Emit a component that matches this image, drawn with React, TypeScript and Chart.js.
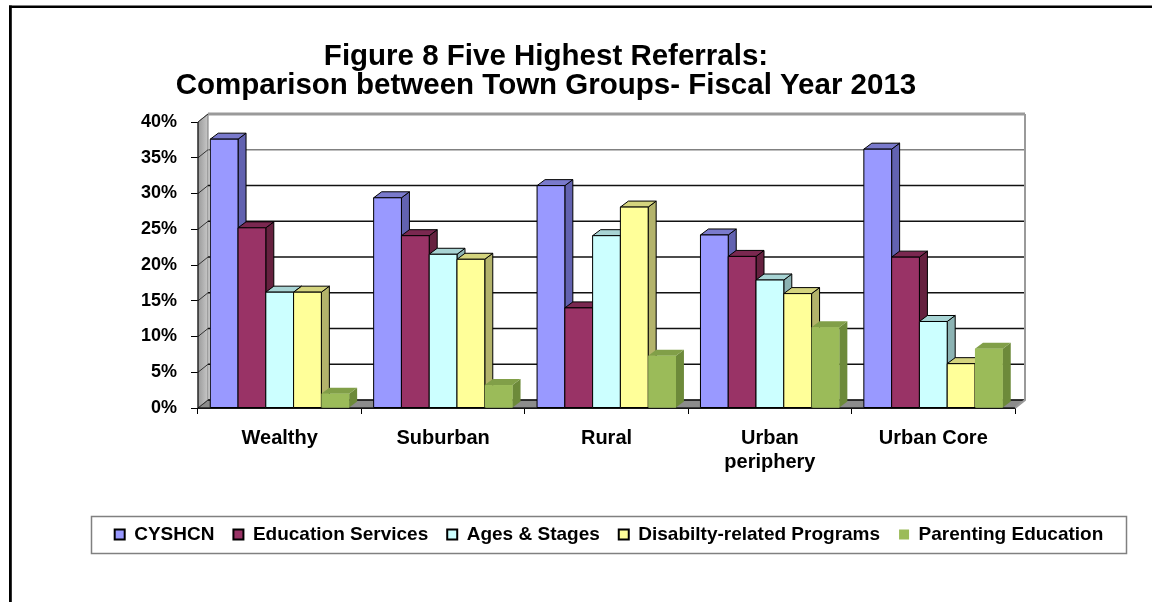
import React, { useEffect, useRef } from 'react';
import { Chart, registerables } from 'chart.js';

Chart.register(...registerables);

const FONT = '"Liberation Sans", Arial, Helvetica, sans-serif';

const categories: (string | string[])[] = ['Wealthy', 'Suburban', 'Rural', ['Urban', 'periphery'], 'Urban Core'];
const seriesNames = ['CYSHCN', 'Education Services', 'Ages & Stages', 'Disabilty-related Programs', 'Parenting Education'];
const cyshcn = [37.6, 29.4, 31.1, 24.2, 36.2];
const educationServices = [25.2, 24.1, 14.0, 21.2, 21.1];
const agesStages = [16.2, 21.5, 24.1, 17.9, 12.1];
const disabilityPrograms = [16.2, 20.8, 28.1, 16.0, 6.2];
const parentingEducation = [2.0, 3.2, 7.3, 11.3, 8.3];
const yMin = 0;
const yMax = 40;
const yStep = 5;
const titleLines = ['Figure 8 Five Highest Referrals:', 'Comparison between Town Groups- Fiscal Year 2013'];

const frontColors = ['#9999ff', '#993366', '#ccffff', '#ffff99', '#9bbb59'];
const sideColors = ['#6262b0', '#66213f', '#8cb3b3', '#b3b36b', '#6d8a3a'];
const topColors = ['#7a7acc', '#7a2850', '#a8d4d4', '#d4d47e', '#819f48'];
const edgeColors = ['#000000', '#000000', '#000000', '#000000', ''];

const BAR_DX = 8;
const BAR_DY = -6;
const WALL_DX = 10;
const WALL_DY = -8;

const threeDPlugin = {
  id: 'threeD',
  beforeDraw(chart: any) {
    const { ctx, width, height } = chart;
    ctx.save();
    ctx.fillStyle = '#ffffff';
    ctx.fillRect(0, 0, width, height);
    ctx.fillStyle = '#000000';
    ctx.fillRect(9, 5.5, width, 2.5);
    ctx.fillRect(9, 5.5, 2.8, height);
    ctx.restore();
  },
  beforeDatasetsDraw(chart: any) {
    const { ctx, chartArea: a, scales } = chart;
    const y = scales.y;
    ctx.save();
    // floor
    ctx.beginPath();
    ctx.moveTo(a.left, a.bottom);
    ctx.lineTo(a.right, a.bottom);
    ctx.lineTo(a.right + WALL_DX, a.bottom + WALL_DY);
    ctx.lineTo(a.left + WALL_DX, a.bottom + WALL_DY);
    ctx.closePath();
    ctx.fillStyle = '#8c8c8c';
    ctx.fill();
    ctx.strokeStyle = '#555555';
    ctx.lineWidth = 1;
    ctx.stroke();
    // left wall
    const g = ctx.createLinearGradient(a.left, 0, a.left + WALL_DX, 0);
    g.addColorStop(0, '#9a9a9a');
    g.addColorStop(1, '#c8c8c8');
    ctx.beginPath();
    ctx.moveTo(a.left, a.top);
    ctx.lineTo(a.left + WALL_DX, a.top + WALL_DY);
    ctx.lineTo(a.left + WALL_DX, a.bottom + WALL_DY);
    ctx.lineTo(a.left, a.bottom);
    ctx.closePath();
    ctx.fillStyle = g;
    ctx.fill();
    ctx.strokeStyle = '#777777';
    ctx.stroke();
    // gridlines on back wall and left wall
    y.ticks.forEach((t: any) => {
      const py = y.getPixelForValue(t.value);
      const isTop = t.value >= yMax;
      const nearTop = t.value >= yMax - yStep;
      ctx.beginPath();
      ctx.moveTo(a.left + WALL_DX, py + WALL_DY);
      ctx.lineTo(a.right + WALL_DX, py + WALL_DY);
      ctx.strokeStyle = isTop ? '#9a9a9a' : nearTop ? '#808080' : '#111111';
      ctx.lineWidth = isTop ? 3 : 1.6;
      ctx.stroke();
      ctx.beginPath();
      ctx.moveTo(a.left, py);
      ctx.lineTo(a.left + WALL_DX, py + WALL_DY);
      ctx.strokeStyle = '#333333';
      ctx.lineWidth = 1;
      ctx.stroke();
    });
    // back wall right edge
    ctx.beginPath();
    ctx.moveTo(a.right + WALL_DX, a.top + WALL_DY);
    ctx.lineTo(a.right + WALL_DX, a.bottom + WALL_DY);
    ctx.lineTo(a.right, a.bottom);
    ctx.strokeStyle = '#9a9a9a';
    ctx.lineWidth = 2;
    ctx.stroke();
    // front axis lines
    ctx.beginPath();
    ctx.moveTo(a.left, a.top);
    ctx.lineTo(a.left, a.bottom);
    ctx.lineTo(a.right, a.bottom);
    ctx.strokeStyle = '#000000';
    ctx.lineWidth = 1;
    ctx.stroke();
    ctx.restore();
  },
  afterDatasetsDraw(chart: any) {
    const { ctx } = chart;
    const n = chart.data.labels.length;
    ctx.save();
    ctx.lineJoin = 'miter';
    ctx.lineWidth = 1;
    for (let j = 0; j < n; j++) {
      for (let i = 0; i < chart.data.datasets.length; i++) {
        const el = chart.getDatasetMeta(i).data[j];
        if (!el) continue;
        const { x, y, base, width } = el.getProps(['x', 'y', 'base', 'width'], true);
        const l = x - width / 2;
        const r = x + width / 2;
        const edge = edgeColors[i];
        // side face
        ctx.beginPath();
        ctx.moveTo(r, base);
        ctx.lineTo(r, y);
        ctx.lineTo(r + BAR_DX, y + BAR_DY);
        ctx.lineTo(r + BAR_DX, base + BAR_DY);
        ctx.closePath();
        ctx.fillStyle = sideColors[i];
        ctx.fill();
        if (edge) { ctx.strokeStyle = edge; ctx.stroke(); }
        // top face
        ctx.beginPath();
        ctx.moveTo(l, y);
        ctx.lineTo(l + BAR_DX, y + BAR_DY);
        ctx.lineTo(r + BAR_DX, y + BAR_DY);
        ctx.lineTo(r, y);
        ctx.closePath();
        ctx.fillStyle = topColors[i];
        ctx.fill();
        if (edge) { ctx.strokeStyle = edge; ctx.stroke(); }
        // front face
        ctx.beginPath();
        ctx.rect(l, y, width, base - y);
        ctx.fillStyle = frontColors[i];
        ctx.fill();
        if (edge) { ctx.strokeStyle = edge; ctx.stroke(); }
      }
    }
    ctx.restore();
  },
  afterDraw(chart: any) {
    const { ctx } = chart;
    ctx.save();
    // title
    ctx.fillStyle = '#000000';
    ctx.font = `bold 29.5px ${FONT}`;
    ctx.textAlign = 'center';
    ctx.textBaseline = 'middle';
    ctx.fillText(titleLines[0], 546, 57);
    ctx.fillText(titleLines[1], 546, 86);
    // legend frame
    const lg = chart.legend;
    if (lg && lg.legendHitBoxes && lg.legendHitBoxes.length) {
      const hb = lg.legendHitBoxes[0];
      const cy = hb.top + hb.height / 2;
      const top = Math.round(cy - 18.5) + 0.5;
      const bottom = Math.round(cy + 18.5) + 0.5;
      ctx.strokeStyle = '#808080';
      ctx.lineWidth = 1.5;
      ctx.strokeRect(lg.left + 0.5, top, lg.right - lg.left - 1, bottom - top);
    }
    ctx.restore();
  },
};

const seriesValues = [cyshcn, educationServices, agesStages, disabilityPrograms, parentingEducation];

export default function App() {
  const canvasRef = useRef<HTMLCanvasElement | null>(null);

  useEffect(() => {
    if (!canvasRef.current) return;
    Chart.defaults.font.family = FONT;
    const chart = new Chart(canvasRef.current, {
      type: 'bar',
      data: {
        labels: categories as any,
        datasets: seriesNames.map((name, i) => ({
          label: name,
          data: seriesValues[i],
          backgroundColor: frontColors[i],
          borderColor: edgeColors[i] || frontColors[i],
          borderWidth: edgeColors[i] ? 2 : 0,
          categoryPercentage: 0.85,
          barPercentage: 1.0,
        })),
      },
      options: {
        responsive: false,
        animation: false,
        layout: { padding: { left: 91, right: 25, top: 122, bottom: 48 } },
        plugins: {
          title: { display: false },
          tooltip: { enabled: false },
          legend: {
            position: 'bottom',
            labels: {
              font: { size: 19, weight: 'bold', family: FONT },
              color: '#000000',
              boxWidth: 10,
              boxHeight: 10,
              padding: 19,
            },
          },
        },
        scales: {
          x: {
            grid: { display: true, drawOnChartArea: false, drawTicks: true, tickLength: 6, color: '#000000', offset: true },
            border: { display: true, color: '#000000' },
            ticks: {
              font: { size: 20, weight: 'bold', family: FONT },
              color: '#000000',
              padding: 12,
              maxRotation: 0,
              autoSkip: false,
            },
            afterFit: (s: any) => { s.height = 98; },
          },
          y: {
            min: yMin,
            max: yMax,
            grid: { display: true, drawOnChartArea: false, drawTicks: true, tickLength: 7, color: '#000000' },
            border: { display: true, color: '#000000' },
            ticks: {
              stepSize: yStep,
              font: { size: 18, weight: 'bold', family: FONT },
              color: '#000000',
              padding: 14,
              callback: (v: any) => `${v}%`,
            },
            afterFit: (s: any) => { s.width = 107; },
          },
          y2: {
            position: 'right',
            display: true,
            grid: { display: false },
            border: { display: false },
            ticks: { display: false },
            afterFit: (s: any) => { s.width = 112; },
          },
        },
      },
      plugins: [threeDPlugin],
    } as any);
    return () => chart.destroy();
  }, []);

  return (
    <div style={{ position: 'fixed', left: 0, top: 0, width: 1152, height: 602, background: '#fff' }}>
      <canvas ref={canvasRef} width={1152} height={602} style={{ display: 'block' }} />
    </div>
  );
}
